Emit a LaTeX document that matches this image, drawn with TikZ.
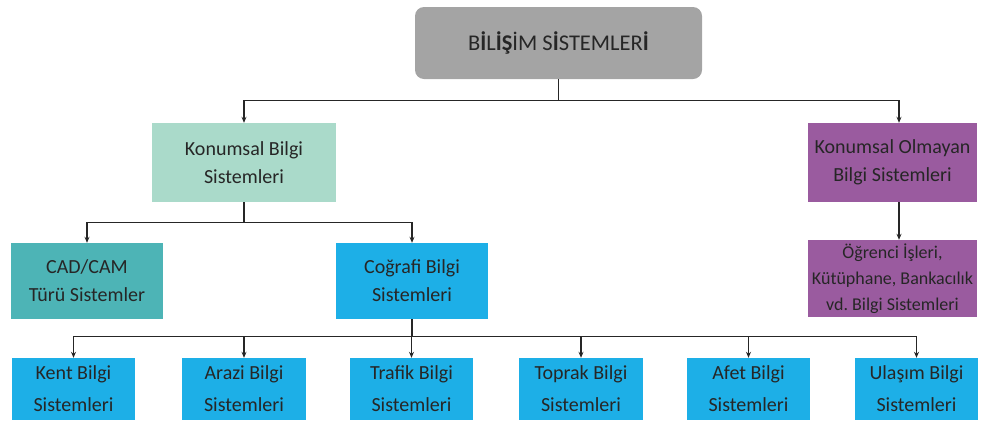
\documentclass[tikz,border=0pt]{standalone}
\usepackage{fontspec}
\setmainfont{Carlito}
\usepackage{tikz}
\usetikzlibrary{arrows.meta}
\definecolor{topgray}{HTML}{A4A4A4}
\definecolor{mint}{HTML}{AADACA}
\definecolor{teal2}{HTML}{4DB4B6}
\definecolor{skyblue}{HTML}{1DAFE7}
\definecolor{plum}{HTML}{9A5B9F}
\begin{document}
\begin{tikzpicture}[x=1pt, y=-1pt,
    box/.style={align=center, inner sep=0pt, font=\fontsize{20}{28}\selectfont, text=black!85},
    leaf/.style={box, fill=skyblue, minimum width=123pt, minimum height=62pt, font=\fontsize{20}{32}\selectfont},
    arr/.style={-{Stealth[length=6pt,width=5pt]}, line width=1.2pt, black!85}]
  \useasboundingbox (0,0) rectangle (984,421);

  % --- top level ---
  \node[box, fill=topgray, rounded corners=9pt, minimum width=287pt, minimum height=72pt,
        font=\fontsize{22.5}{26}\selectfont] (bs) at (558.5,43) {B\textbf{İ}L\textbf{İŞ}İM S\textbf{İ}STEMLER\textbf{İ}};

  % --- second level ---
  \node[box, fill=mint, minimum width=184pt, minimum height=79pt] (kbs) at (244,162.5) {Konumsal Bilgi\\Sistemleri};
  \node[box, fill=plum, minimum width=169pt, minimum height=79pt] (kobs) at (892.5,162.5) {Konumsal Olmayan\\Bilgi Sistemleri};

  % --- third level ---
  \node[box, fill=teal2, minimum width=152pt, minimum height=76pt] (cad) at (87,281) {CAD/CAM\\Türü Sistemler};
  \node[box, fill=skyblue, minimum width=152pt, minimum height=76pt] (cbs) at (412,281) {Coğrafi Bilgi\\Sistemleri};
  \node[box, fill=plum, minimum width=169pt, minimum height=77pt, font=\fontsize{18}{26}\selectfont] (ogr) at (892.5,278.5) {Öğrenci İşleri,\\Kütüphane, Bankacılık\\vd.\ Bilgi Sistemleri};

  % --- bottom row ---
  \node[leaf] (kent) at (73.5,389) {Kent Bilgi\\Sistemleri};
  \node[leaf, minimum width=124pt] (arazi) at (244,389) {Arazi Bilgi\\Sistemleri};
  \node[leaf] (trafik) at (411.5,389) {Trafik Bilgi\\Sistemleri};
  \node[leaf, minimum width=124pt] (toprak) at (581,389) {Toprak Bilgi\\Sistemleri};
  \node[leaf] (afet) at (748.5,389) {Afet Bilgi\\Sistemleri};
  \node[leaf] (ulasim) at (916.5,389) {Ulaşım Bilgi\\Sistemleri};

  % connectors
  \draw[arr] (bs.south) -- ++(0,21) -| (kbs.north);
  \draw[arr] (bs.south) -- ++(0,21) -| ([xshift=6.5pt]kobs.north);
  \draw[arr] (kbs.south) -- ++(0,20) -| (cad.north);
  \draw[arr] (kbs.south) -- ++(0,20) -| (cbs.north);
  \draw[arr] ([xshift=6.5pt]kobs.south) -- ([xshift=6.5pt]ogr.north);
  \foreach \n in {kent,arazi,trafik,toprak,afet,ulasim}
    \draw[arr] (cbs.south) -- ++(0,17) -| (\n.north);
\end{tikzpicture}
\end{document}
